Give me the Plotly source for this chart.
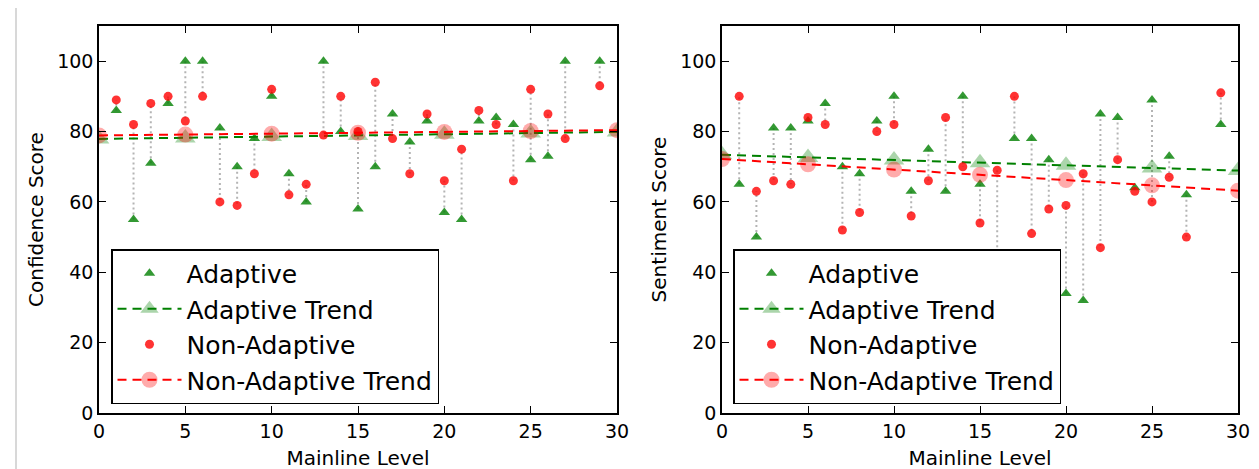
import plotly.graph_objects as go
from plotly.subplots import make_subplots

# mainline levels that have a score (level 28 has none)
levels = [1, 2, 3, 4, 5, 6, 7, 8, 9, 10, 11, 12, 13, 14, 15, 16, 17, 18, 19, 20,
          21, 22, 23, 24, 25, 26, 27, 29]

# confidence scores
conf_adaptive = [86, 55, 71, 88, 100, 100, 81, 70, 78, 90, 68, 60, 100, 80, 58, 70,
                 85, 77, 83, 57, 55, 83, 84, 82, 72, 73, 100, 100]
conf_non_adaptive = [89, 82, 88, 90, 83, 90, 60, 59, 68, 92, 62, 65, 79, 90, 80, 94,
                     78, 68, 85, 66, 75, 86, 82, 66, 92, 85, 78, 93]

# sentiment scores
sent_adaptive = [65, 50, 81, 81, 83, 88, 70, 68, 83, 90, 63, 75, 63, 90, 65, 40,
                 78, 78, 72, 34, 32, 85, 84, 64, 89, 73, 62, 82]
sent_non_adaptive = [90, 63, 66, 65, 84, 82, 52, 57, 80, 82, 56, 66, 84, 70, 54, 69,
                     90, 51, 58, 59, 68, 47, 72, 63, 60, 67, 50, 91]

# trend lines, read at every 5th level
trend_levels = [0, 5, 10, 15, 20, 25, 30]
conf_adaptive_trend = [77.9, 78.2, 78.6, 78.9, 79.2, 79.6, 79.9]
conf_non_adaptive_trend = [78.9, 79.15, 79.4, 79.65, 79.9, 80.15, 80.4]
sent_adaptive_trend = [73.4, 72.65, 71.9, 71.15, 70.4, 69.65, 68.9]
sent_non_adaptive_trend = [72.2, 70.7, 69.2, 67.7, 66.2, 64.7, 63.2]

W, H = 1259, 469
FONT = "DejaVu Sans"

fig = make_subplots(rows=1, cols=2)


def add_panel(col, adaptive, non_adaptive, a_trend, n_trend, legend):
    # grey dotted connector between the two scores of each level
    xs, ys = [], []
    for lv, a, n in zip(levels, adaptive, non_adaptive):
        xs += [lv, lv, None]
        ys += [a, n, None]
    fig.add_trace(go.Scatter(x=xs, y=ys, mode="lines", showlegend=False,
                             line=dict(color="#b4b4b4", width=2, dash="2px,3px"),
                             hoverinfo="skip"), row=1, col=col)

    fig.add_trace(go.Scatter(x=levels, y=adaptive, mode="markers", name="Adaptive",
                             legend=legend, legendgroup=legend + "a",
                             marker=dict(symbol="triangle-up", size=10,
                                         color="rgba(0,128,0,0.8)")),
                  row=1, col=col)
    fig.add_trace(go.Scatter(x=trend_levels, y=a_trend, mode="lines+markers",
                             name="Adaptive Trend", legend=legend,
                             legendgroup=legend + "b",
                             line=dict(color="rgb(0,128,0)", width=2, dash="9px,6px"),
                             marker=dict(symbol="triangle-up", size=18,
                                         color="rgba(0,128,0,0.33)",
                                         line=dict(width=0))),
                  row=1, col=col)
    fig.add_trace(go.Scatter(x=levels, y=non_adaptive, mode="markers",
                             name="Non-Adaptive", legend=legend,
                             legendgroup=legend + "c",
                             marker=dict(symbol="circle", size=9,
                                         color="rgba(255,0,0,0.8)")),
                  row=1, col=col)
    fig.add_trace(go.Scatter(x=trend_levels, y=n_trend, mode="lines+markers",
                             name="Non-Adaptive Trend", legend=legend,
                             legendgroup=legend + "d",
                             line=dict(color="rgb(255,0,0)", width=2, dash="9px,6px"),
                             marker=dict(symbol="circle", size=16,
                                         color="rgba(255,0,0,0.33)",
                                         line=dict(width=0))),
                  row=1, col=col)


add_panel(1, conf_adaptive, conf_non_adaptive, conf_adaptive_trend,
          conf_non_adaptive_trend, "legend")
add_panel(2, sent_adaptive, sent_non_adaptive, sent_adaptive_trend,
          sent_non_adaptive_trend, "legend2")

y_dom = [(H - 405) / H, (H - 18) / H]
axis_style = dict(showline=True, linecolor="black", linewidth=1.5, mirror="ticks",
                  ticks="inside", ticklen=7, tickcolor="black", showgrid=False,
                  zeroline=False, tickfont=dict(size=19, color="black", family=FONT),
                  automargin=False)

fig.update_xaxes(range=[0, 30], tickvals=[0, 5, 10, 15, 20, 25, 30], **axis_style)
fig.update_yaxes(range=[0, 110], tickvals=[0, 20, 40, 60, 80, 100], **axis_style)
fig.update_xaxes(title=dict(text="Mainline Level", font=dict(size=20, family=FONT, color="black"), standoff=10))
fig.update_yaxes(title=dict(text="", font=dict(size=20, family=FONT, color="black")))

fig.update_layout(
    width=W, height=H,
    margin=dict(l=0, r=0, t=0, b=0),
    paper_bgcolor="white", plot_bgcolor="white",
    font=dict(family=FONT, color="black"),
    xaxis=dict(domain=[91 / W, 609 / W]),
    xaxis2=dict(domain=[714 / W, 1230 / W]),
    yaxis=dict(domain=y_dom, title=dict(text="Confidence Score", standoff=8)),
    yaxis2=dict(domain=y_dom, title=dict(text="Sentiment Score", standoff=8)),
    shapes=[dict(type="line", xref="paper", yref="paper", x0=8 / W, x1=8 / W,
                 y0=0, y1=1, line=dict(color="#d8d8d8", width=2))],
)

legend_style = dict(xanchor="left", yanchor="top", bgcolor="white",
                    bordercolor="black", borderwidth=1.5,
                    font=dict(size=25, family=FONT, color="black"),
                    itemwidth=64, traceorder="grouped", tracegroupgap=0)
fig.update_layout(
    legend=dict(x=103 / W, y=1 - 241 / H, **legend_style),
    legend2=dict(x=725 / W, y=1 - 241 / H, **legend_style),
)

fig.write_html("out.html")
